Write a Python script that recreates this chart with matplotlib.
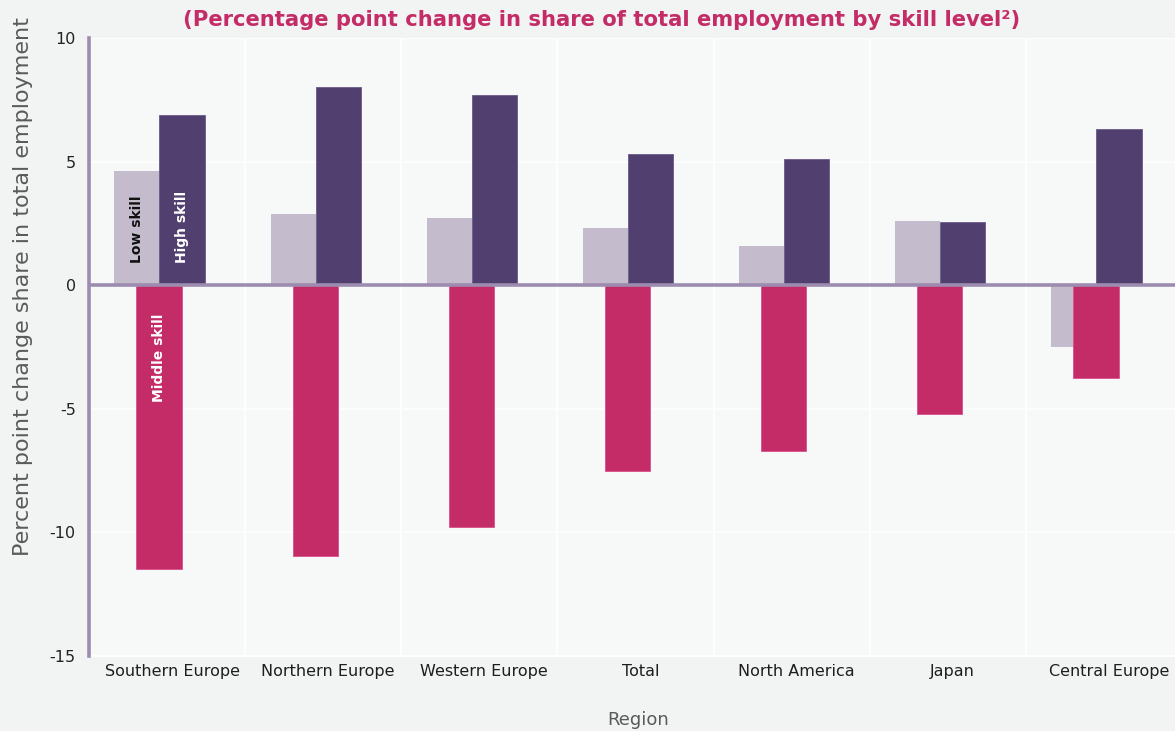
import numpy as np
import matplotlib
matplotlib.use("Agg")
import matplotlib.pyplot as plt
from matplotlib.transforms import ScaledTranslation

regions = ["Southern Europe", "Northern Europe", "Western Europe", "Total",
           "North America", "Japan", "Central Europe"]
low_skill = [4.6, 2.9, 2.7, 2.3, 1.6, 2.6, -2.5]
middle_skill = [-11.5, -10.95, -9.8, -7.5, -6.7, -5.2, -3.75]
high_skill = [6.9, 8.0, 7.7, 5.3, 5.1, 2.55, 6.3]
y_ticks = [-15, -10, -5, 0, 5, 10]

LOW_C = "#c4bccd"
MID_C = "#c42c67"
HIGH_C = "#51406f"
AXIS_C = "#9d8cb0"

plt.rcParams["font.family"] = ["DejaVu Sans"]

fig = plt.figure(figsize=(11.75, 7.31), dpi=100, facecolor="#f2f3f3")
# axes run a little past the right edge of the canvas
ax = fig.add_axes([89 / 1175, 1 - 656 / 731, 1093 / 1175, 618 / 731])
ax.set_facecolor("#f7f8f8")

x = np.arange(len(regions))
w = 0.29
ax.bar(x - 0.192, low_skill, width=w, color=LOW_C, zorder=2)
ax.bar(x - 0.051, middle_skill, width=w, color=MID_C, edgecolor="#d9508a",
       linewidth=0.6, zorder=3)
ax.bar(x + 0.096, high_skill, width=w, color=HIGH_C, edgecolor="#6a5a88",
       linewidth=0.6, zorder=4)

ax.axhline(0, color=AXIS_C, lw=2.6, zorder=6)

ax.set_xlim(-0.5, len(regions) - 0.5)
ax.set_ylim(-15, 10)
ax.set_yticks(y_ticks)
ax.set_yticklabels([str(v) for v in y_ticks])
ax.set_xticks(x)
ax.set_xticklabels(regions)
ax.set_xticks(np.arange(len(regions) + 1) - 0.5, minor=True)
ax.tick_params(axis="both", which="both", length=0)
ax.tick_params(axis="y", pad=9.5, labelsize=11.5, labelcolor="#222222")
ax.tick_params(axis="x", pad=6, labelsize=11.5, labelcolor="#1e1e1e")
for lab in ax.get_xticklabels():
    lab.set_transform(lab.get_transform() + ScaledTranslation(0.05, 0, fig.dpi_scale_trans))

ax.grid(axis="x", which="minor", color="white", lw=1.4, zorder=1)
ax.grid(axis="y", which="major", color="white", lw=1.2, zorder=1)
ax.set_axisbelow(True)

for s in ("top", "right"):
    ax.spines[s].set_visible(False)
ax.spines["bottom"].set_color("white")
ax.spines["bottom"].set_linewidth(1.4)
ax.spines["left"].set_color(AXIS_C)
ax.spines["left"].set_linewidth(2.6)
ax.spines["left"].set_zorder(7)

ax.set_ylabel("Percent point change share in total employment", fontsize=16,
              color="#5a5a5a")
ax.yaxis.set_label_coords(-0.051, 0.597)
fig.text(638 / 1175, 1 - 720 / 731, "Region", fontsize=13, color="#5a5a5a",
         ha="center", va="center")

fig.text(602 / 1175, 1 - 20 / 731,
         "(Percentage point change in share of total employment by skill level\u00b2)",
         fontsize=15.2, fontweight="bold", color="#c42c67", ha="center", va="center")

# series names written inside the first group of bars
ax.text(x[0] - 0.192, 0.9, "Low skill", rotation=90, ha="center", va="bottom",
        fontsize=10, fontweight="bold", color="#111111", zorder=8)
ax.text(x[0] + 0.096, 0.9, "High skill", rotation=90, ha="center", va="bottom",
        fontsize=10, fontweight="bold", color="white", zorder=8)
ax.text(x[0] - 0.051, -1.15, "Middle skill", rotation=90, ha="center", va="top",
        fontsize=10, fontweight="bold", color="white", zorder=8)

fig.savefig("out.png", dpi=100, facecolor=fig.get_facecolor())
